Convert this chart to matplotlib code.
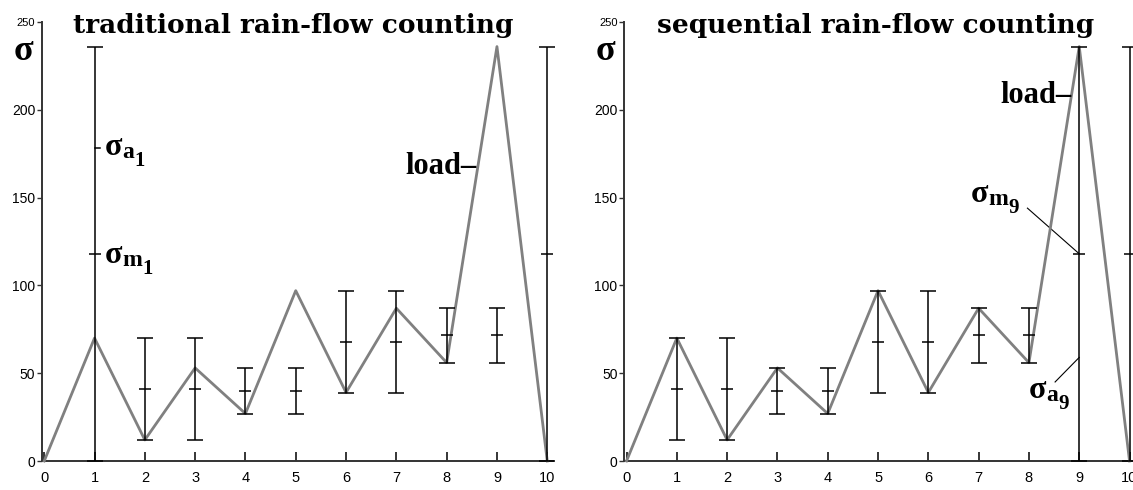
import matplotlib
matplotlib.use('Agg')
import matplotlib.pyplot as plt
from matplotlib import transforms

plt.rcParams['font.family'] = ['Liberation Sans', 'DejaVu Sans']

# ---------------- data ----------------
steps = [0, 1, 2, 3, 4, 5, 6, 7, 8, 9, 10]
load = [0, 70, 12, 53, 27, 97, 39, 87, 56, 236, 0]

trad_pos = [1, 2, 3, 4, 5, 6, 7, 8, 9, 10]
trad_low = [0, 12, 12, 27, 27, 39, 39, 56, 56, 0]
trad_high = [236, 70, 70, 53, 53, 97, 97, 87, 87, 236]

seq_pos = [1, 2, 3, 4, 5, 6, 7, 8, 9, 10]
seq_low = [12, 12, 27, 27, 39, 39, 56, 56, 0, 0]
seq_high = [70, 70, 53, 53, 97, 97, 87, 87, 236, 236]

titles = ['traditional rain-flow counting', 'sequential rain-flow counting']
x_ticks = [0, 1, 2, 3, 4, 5, 6, 7, 8, 9, 10]
y_ticks = [0, 50, 100, 150, 200, 250]

W, H = 1133, 490
fig = plt.figure(figsize=(W / 100, H / 100), dpi=100)
renderer = fig.canvas.get_renderer()

LOAD_COLOR = '#808080'
AX_COLOR = '#333333'
SERIF_B = dict(fontfamily='Liberation Serif', fontweight='bold')


def make_axes(left_px, width_px, xmax):
    ax = fig.add_axes([left_px / W, 29 / H, width_px / W, 439 / H])
    ax.set_xlim(-0.05, xmax)
    ax.set_ylim(0, 250)
    for s in ['top', 'right']:
        ax.spines[s].set_visible(False)
    for s in ['left', 'bottom']:
        ax.spines[s].set_color(AX_COLOR)
        ax.spines[s].set_linewidth(1.4)
    ax.set_xticks(x_ticks)
    ax.set_xticklabels([str(t) for t in x_ticks])
    ax.set_yticks(y_ticks)
    ax.set_yticklabels([str(t) for t in y_ticks])
    ax.tick_params(axis='x', direction='in', length=6.5, width=1.1,
                   color='black', pad=7, labelsize=10.5)
    ax.tick_params(axis='y', direction='out', length=3.6, width=1.0,
                   color=AX_COLOR, pad=1, labelsize=10)
    for lab in ax.get_yticklabels():
        if lab.get_text() == '250':
            lab.set_fontsize(8)
    return ax


def draw_panel(ax, pos, low, high, title):
    ax.plot(steps, load, color=LOAD_COLOR, lw=2.0, clip_on=False, zorder=3)
    mean = [(lo + hi) / 2 for lo, hi in zip(low, high)]
    yerr = [[m - lo for m, lo in zip(mean, low)], [hi - m for m, hi in zip(mean, high)]]
    eb = ax.errorbar(pos, mean, yerr=yerr, fmt='none', ecolor='black',
                     elinewidth=1.1, capsize=5.8, capthick=1.1, zorder=4)
    for art in list(eb.lines[1]) + list(eb.lines[2]):
        art.set_clip_on(False)
    ax.plot(pos, mean, ls='none', marker='_', ms=8, mew=1.1, color='black',
            clip_on=False, zorder=4)
    ax.text(4.95, 243.7, title, ha='center', va='baseline',
            fontfamily='DejaVu Serif', fontweight='bold', fontsize=19,
            clip_on=False)
    ax.text(-0.42, 228.4, 'σ', ha='center', va='baseline', fontsize=26,
            clip_on=False, **SERIF_B)


def sigma_label(ax, x, y, sub, idx):
    t1 = ax.text(x, y, 'σ', fontsize=23, va='baseline', ha='left',
                 clip_on=False, **SERIF_B)
    w1 = t1.get_window_extent(renderer).width
    tr2 = transforms.offset_copy(ax.transData, fig=fig, x=w1, y=-3, units='dots')
    t2 = ax.text(x, y, sub, transform=tr2, fontsize=17, va='baseline',
                 ha='left', clip_on=False, **SERIF_B)
    w2 = t2.get_window_extent(renderer).width
    tr3 = transforms.offset_copy(ax.transData, fig=fig, x=w1 + w2, y=-11,
                                 units='dots')
    ax.text(x, y, idx, transform=tr3, fontsize=15, va='baseline', ha='left',
            clip_on=False, **SERIF_B)


ax1 = make_axes(41.7, 511.6, 10.12)
draw_panel(ax1, trad_pos, trad_low, trad_high, titles[0])
ax2 = make_axes(624.0, 515.6, 10.2)
draw_panel(ax2, seq_pos, seq_low, seq_high, titles[1])

load_kw = dict(fontsize=22, va='baseline', ha='right', clip_on=False, **SERIF_B)

# left annotations
ax1.plot([1.0, 1.1], [178, 178], color='black', lw=1.1, clip_on=False)
sigma_label(ax1, 1.2, 174.5, 'a', '1')
sigma_label(ax1, 1.2, 113, 'm', '1')
ax1.text(8.6, 163.5, 'load–', **load_kw)

# right annotations
sigma_label(ax2, 6.85, 147.5, 'm', '9')
ax2.plot([7.97, 9.0], [144, 118], color='black', lw=0.8, clip_on=False)
sigma_label(ax2, 8.0, 36, 'a', '9')
ax2.plot([8.52, 9.0], [45, 59], color='black', lw=0.8, clip_on=False)
ax2.text(8.84, 204, 'load–', **load_kw)

fig.savefig('out.png', dpi=100)
